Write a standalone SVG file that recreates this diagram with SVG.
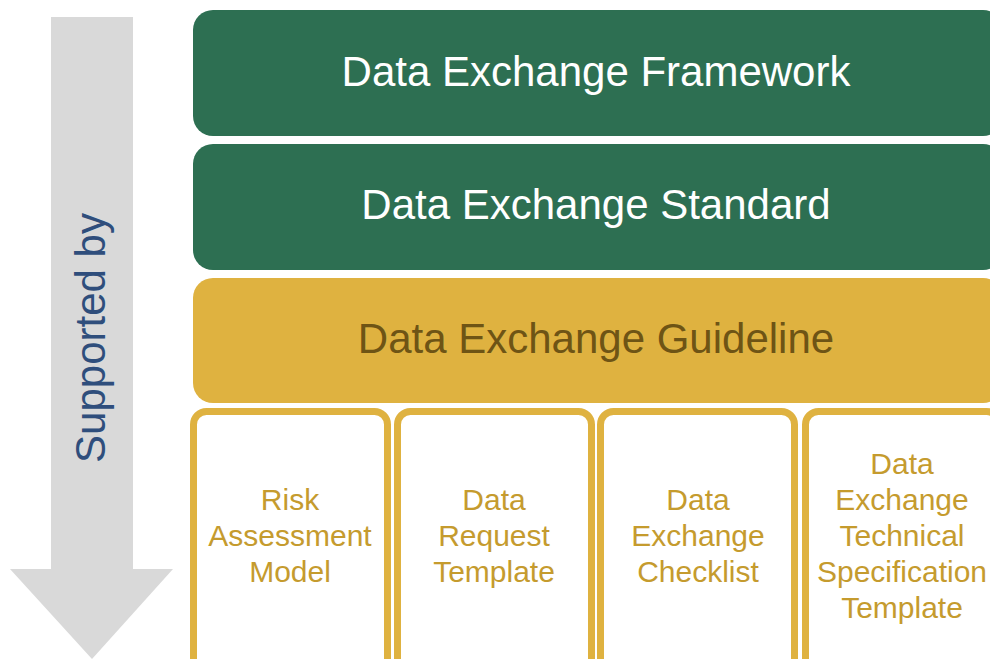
<svg xmlns="http://www.w3.org/2000/svg" width="990" height="659" viewBox="0 0 990 659">
  <style>
    .t { font-family: "Liberation Sans", Arial, sans-serif; text-anchor: middle; }
    .big { font-size: 42px; }
    .small { font-size: 30px; fill: #C59B2E; }
    .green { fill: #2D6F52; }
    .gold { fill: #DFB240; }
    .sub { fill: #FFFFFF; stroke: #DFB240; stroke-width: 7; }
  </style>
  <rect width="990" height="659" fill="#FFFFFF"/>
  <g id="arrow">
    <polygon points="51,17 133,17 133,569 173,569 92,659 10,569 51,569" fill="#D9D9D9"/>
    <text class="t big" transform="rotate(-90)" x="-338" y="105" fill="#2F4E7C" font-size="41">Supported by</text>
  </g>
  <g id="framework">
    <rect class="green" x="193" y="10" width="810" height="126" rx="20"/>
    <text class="t big" x="596" y="86" fill="#FFFFFF">Data Exchange Framework</text>
  </g>
  <g id="standard">
    <rect class="green" x="193" y="144" width="810" height="126" rx="20"/>
    <text class="t big" x="596" y="219" fill="#FFFFFF">Data Exchange Standard</text>
  </g>
  <g id="guideline">
    <rect class="gold" x="193" y="278" width="810" height="125" rx="20"/>
    <text class="t big" x="596" y="353" fill="#6E5415">Data Exchange Guideline</text>
  </g>
  <g id="risk">
    <rect class="sub" x="193.5" y="411.5" width="194" height="300" rx="13"/>
    <text class="t small" x="290" y="510">Risk</text>
    <text class="t small" x="290" y="546">Assessment</text>
    <text class="t small" x="290" y="582">Model</text>
  </g>
  <g id="request">
    <rect class="sub" x="397.5" y="411.5" width="194" height="300" rx="13"/>
    <text class="t small" x="494" y="510">Data</text>
    <text class="t small" x="494" y="546">Request</text>
    <text class="t small" x="494" y="582">Template</text>
  </g>
  <g id="checklist">
    <rect class="sub" x="600.5" y="411.5" width="194" height="300" rx="13"/>
    <text class="t small" x="698" y="510">Data</text>
    <text class="t small" x="698" y="546">Exchange</text>
    <text class="t small" x="698" y="582">Checklist</text>
  </g>
  <g id="techspec">
    <rect class="sub" x="805.5" y="411.5" width="194" height="300" rx="13"/>
    <text class="t small" x="902" y="474">Data</text>
    <text class="t small" x="902" y="510">Exchange</text>
    <text class="t small" x="902" y="546">Technical</text>
    <text class="t small" x="902" y="582">Specification</text>
    <text class="t small" x="902" y="618">Template</text>
  </g>
  <g id="connectors"/>
</svg>
